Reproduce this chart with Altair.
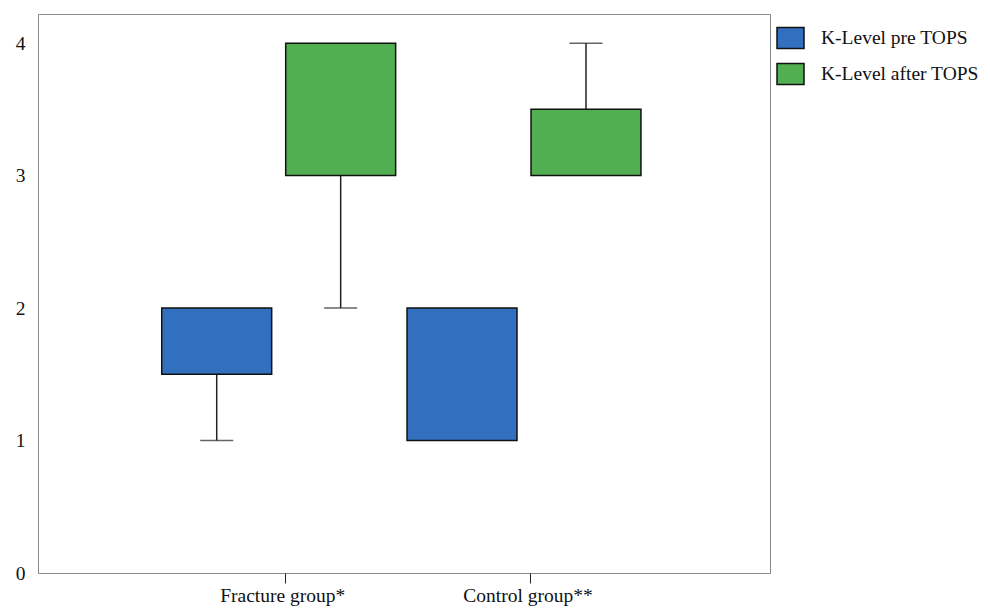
import altair as alt
import pandas as pd

groups = ["Fracture group*", "Fracture group*", "Control group**", "Control group**"]
phases = ["K-Level pre TOPS", "K-Level after TOPS", "K-Level pre TOPS", "K-Level after TOPS"]
lows = [1, 2, 1, 3]
q1s = [1.5, 3, 1, 3]
q3s = [2, 4, 2, 3.5]
highs = [2, 4, 2, 4]

group_order = ["Fracture group*", "Control group**"]
phase_order = ["K-Level pre TOPS", "K-Level after TOPS"]
colors = ["#3270bf", "#51af51"]

df = pd.DataFrame({"group": groups, "phase": phases, "low": lows,
                   "q1": q1s, "q3": q3s, "high": highs})

FONT = "Liberation Serif"
FS = 19.5

x = alt.X("group:N", sort=group_order, title=None,
          scale=alt.Scale(paddingOuter=0.492, paddingInner=0, align=0.489),
          axis=alt.Axis(domain=False, ticks=True, tickSize=10, tickColor="#222",
                        tickOffset=6.5, labelAngle=0, labelFontSize=FS,
                        labelFont=FONT, labelColor="#111", labelPadding=3,
                        labelOffset=-3))
xo = alt.XOffset("phase:N", sort=phase_order,
                 scale=alt.Scale(paddingInner=0.113, paddingOuter=0.046))
yscale = alt.Scale(domain=[0, 4.22], nice=False)
yaxis = alt.Axis(values=[0, 1, 2, 3, 4], domain=False, ticks=False, grid=False,
                 labelFontSize=FS, labelFont=FONT, labelColor="#111",
                 labelPadding=13, format="d")

base = alt.Chart(df)

whisker = base.mark_rule(color="#222", strokeWidth=1.5).encode(
    x=x, xOffset=xo,
    y=alt.Y("low:Q", scale=yscale, axis=yaxis, title=None),
    y2="high:Q",
)

box = base.mark_bar(stroke="#111", strokeWidth=1.5).encode(
    x=x, xOffset=xo,
    y=alt.Y("q1:Q", scale=yscale, title=None),
    y2="q3:Q",
    color=alt.Color("phase:N", sort=phase_order,
                    scale=alt.Scale(domain=phase_order, range=colors),
                    legend=alt.Legend(title=None, orient="none", legendX=738, legendY=9.5,
                                      symbolType="M-1,-0.78H1V0.78H-1Z",
                                      symbolSize=729, symbolStrokeColor="#111",
                                      symbolStrokeWidth=1.5, symbolOpacity=1,
                                      labelFont=FONT, labelFontSize=FS,
                                      labelColor="#111", rowPadding=7,
                                      labelLimit=400,
                                      labelOffset=16, padding=0)),
)

cap_low = base.transform_filter("datum.low < datum.q1").mark_tick(
    color="#222", thickness=1.5, size=33).encode(
    x=x, xOffset=xo, y=alt.Y("low:Q", scale=yscale, title=None))

cap_high = base.transform_filter("datum.high > datum.q3").mark_tick(
    color="#222", thickness=1.5, size=33).encode(
    x=x, xOffset=xo, y=alt.Y("high:Q", scale=yscale, title=None))

chart = alt.layer(whisker, box, cap_low, cap_high).properties(
    width=732, height=559,
    autosize=alt.AutoSizeParams(type="none"),
    padding={"left": 30, "top": 6, "right": 212, "bottom": 36},
    background="white",
).configure_view(stroke="#8a8a8a", strokeWidth=1)

chart.save("out.html", embed_options={"renderer": "svg", "actions": False})
